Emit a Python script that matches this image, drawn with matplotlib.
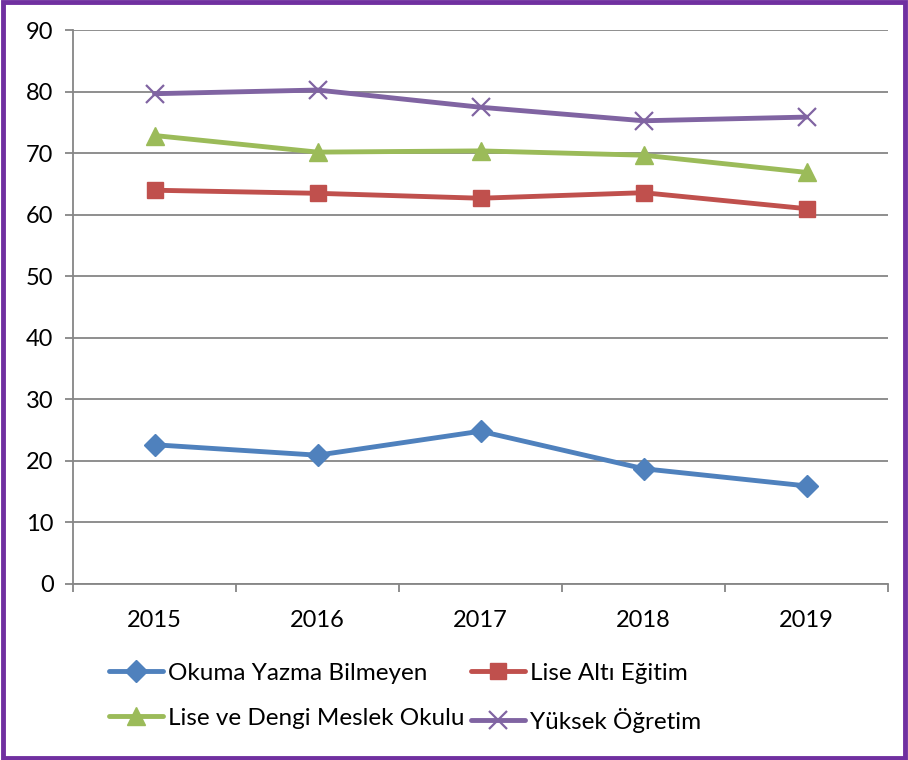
import matplotlib
matplotlib.use("Agg")
import matplotlib.pyplot as plt
from matplotlib.patches import Rectangle

years = ["2015", "2016", "2017", "2018", "2019"]
okuma = [22.6, 20.9, 24.8, 18.7, 15.9]
lise_alti = [64.0, 63.5, 62.7, 63.6, 61.0]
lise_dengi = [72.9, 70.2, 70.4, 69.7, 66.9]
yuksek = [79.7, 80.3, 77.5, 75.3, 75.9]
labels = ["Okuma Yazma Bilmeyen", "Lise Altı Eğitim",
          "Lise ve Dengi Meslek Okulu", "Yüksek Öğretim"]
yticks = [0, 10, 20, 30, 40, 50, 60, 70, 80, 90]

plt.rcParams['font.family'] = ['Lato', 'DejaVu Sans']

fig = plt.figure(figsize=(9.08, 7.6), dpi=100)
ax = fig.add_axes([0.0804, 0.232, 0.978 - 0.0804, 0.960 - 0.232])

x = list(range(len(years)))
styles = [
    (okuma, "#4F81BD", "D", 11, 1),
    (lise_alti, "#C0504D", "s", 12, 1),
    (lise_dengi, "#9BBB59", "^", 13, 1),
    (yuksek, "#8064A2", "x", 13, 1.6),
]
for (vals, col, mk, ms, mew), lab in zip(styles, labels):
    ax.plot(x, vals, color=col, lw=3.5, marker=mk, ms=ms, mew=mew,
            mec=col, mfc=col, label=lab, solid_capstyle='round')

ax.set_xlim(-0.5, 4.5)
ax.set_ylim(0, 90)
ax.set_yticks(yticks)
ax.set_xticks(x)
ax.set_xticklabels(years)
ax.set_xticks([i - 0.5 for i in range(len(years) + 1)], minor=True)
ax.tick_params(axis='x', which='major', length=0, labelsize=17, pad=19)
ax.tick_params(axis='x', which='minor', length=6, color="#868686", width=1.3)
ax.tick_params(axis='y', length=6, color="#868686", width=1.3, labelsize=17, pad=8)
ax.grid(axis='y', color="#868686", lw=1.3)
ax.set_axisbelow(True)
for s in ['top', 'right']:
    ax.spines[s].set_visible(False)
for s in ['left', 'bottom']:
    ax.spines[s].set_color("#868686")
    ax.spines[s].set_linewidth(1.3)

handles, labs = ax.get_legend_handles_labels()
order = [0, 2, 1, 3]
leg = fig.legend([handles[i] for i in order], [labs[i] for i in order],
                 ncol=2, loc='center', bbox_to_anchor=(0.446, 0.082),
                 frameon=False, fontsize=17.5, handlelength=2.2,
                 handletextpad=0.2, columnspacing=0.3, labelspacing=1.0)

fig.patches.append(Rectangle((0.003, 0.003), 0.994, 0.994, transform=fig.transFigure,
                             fill=False, edgecolor="#7030A0", lw=3.5))

fig.savefig("out.png", dpi=100)
